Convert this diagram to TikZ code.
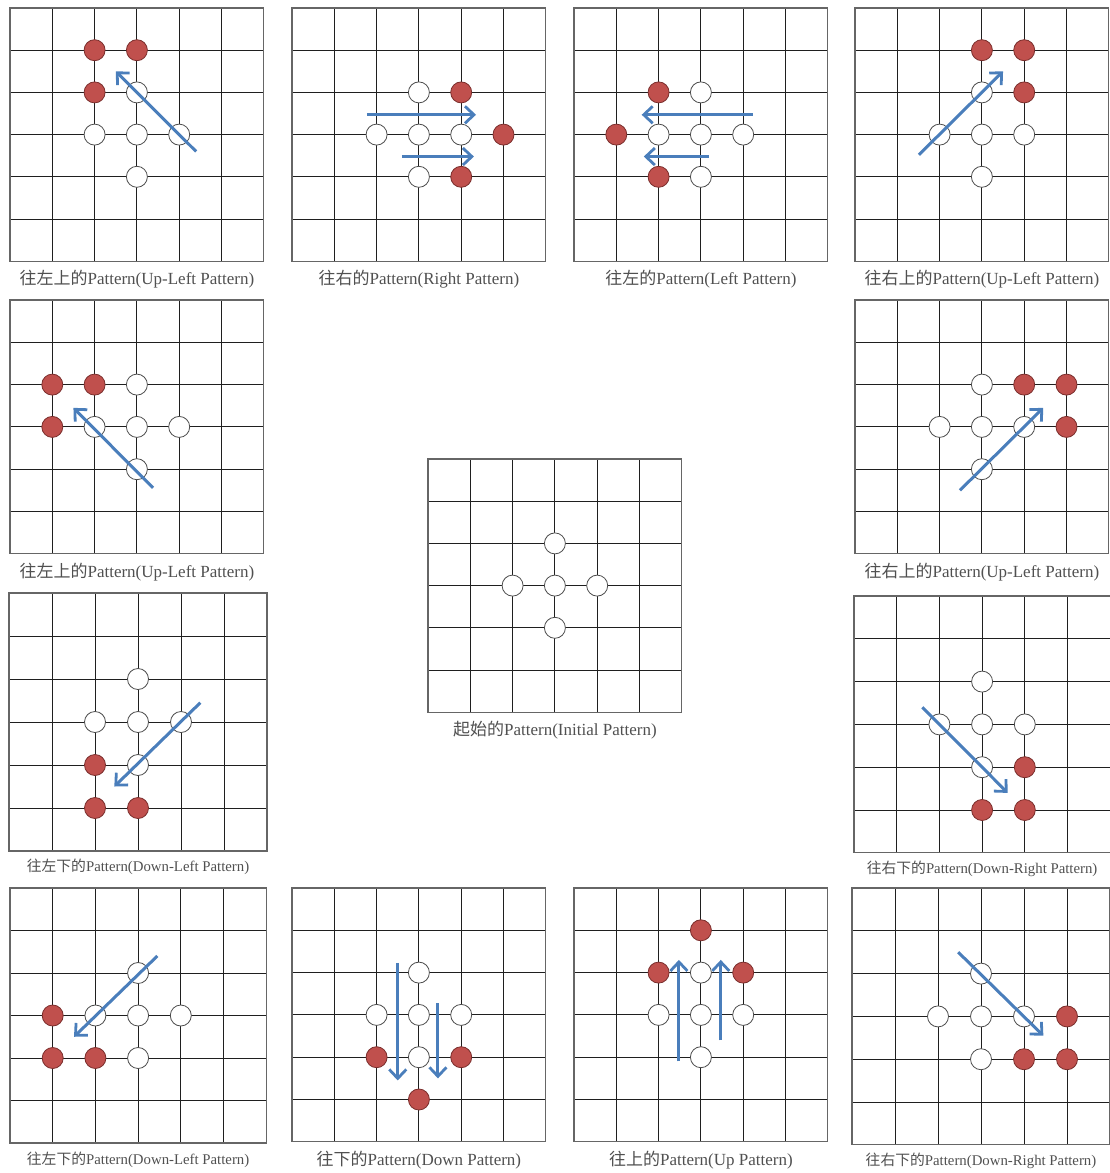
\documentclass[tikz,border=0pt]{standalone}
\usepackage{fontspec}
\setmainfont{Liberation Serif}
\newfontfamily\cjk{Noto Sans CJK TC}
\usetikzlibrary{arrows.meta}
\definecolor{stonered}{HTML}{C0504D}
\definecolor{stoneedge}{HTML}{7A2E2C}
\definecolor{arrblue}{HTML}{4A7EBB}
\definecolor{lblgray}{HTML}{505050}
\tikzset{
  gridline/.style={line width=0.9pt, black!88},
  gridframe/.style={line width=1.3pt, black!60},
  wc/.style={circle, draw=black!70, line width=0.8pt, fill=white, minimum size=21pt, inner sep=0pt},
  rc/.style={circle, draw=stoneedge, line width=0.8pt, fill=stonered, minimum size=21pt, inner sep=0pt},
  arr/.style={draw=arrblue, line width=3pt, -{Straight Barb[length=9pt,width=17pt,line width=2.8pt]}},
  lbl/.style={text=lblgray, inner sep=0pt, font=\fontsize{17}{20}\selectfont},
  slbl/.style={text=lblgray, inner sep=0pt, font=\fontsize{14.8}{17}\selectfont},
}
\newcommand\boardlines{%
  \foreach \i in {1,...,5}{\draw[gridline] (\i,0)--(\i,6); \draw[gridline] (0,\i)--(6,\i);}
  \draw[gridframe] (0,0) rectangle (6,6);}
\newcommand\initstones[1]{%
  \foreach \c/\r in {3/2,2/3,3/3,4/3,3/4} \node[wc] (#1-\c-\r) at (\c,\r) {};}
\newcommand\redstones[2]{%
  \foreach \c/\r in {#2} \node[rc] (#1-\c-\r) at (\c,\r) {};}
\begin{document}
\begin{tikzpicture}[x=1pt,y=-1pt]
\useasboundingbox (0,0) rectangle (1110,1173);
% 1 up-left
\begin{scope}[shift={(10,8)},x=42.3pt,y=-42.2pt]
  \boardlines \initstones{b1} \redstones{b1}{2/1,3/1,2/2}
  \coordinate (b1s) at (4.4,3.4); \coordinate (b1e) at (2.5,1.5);
  \draw[arr] (b1s) -- (b1e);
  \node[lbl,yshift=-18pt] (l1) at (3,6) {{\cjk 往左上的}Pattern(Up-Left Pattern)};
\end{scope}
% 2 right
\begin{scope}[shift={(292,8)},x=42.3pt,y=-42.2pt]
  \boardlines \initstones{b2} \redstones{b2}{4/2,5/3,4/4}
  \coordinate (b2s) at (1.77,2.53); \coordinate (b2e) at (4.35,2.53);
  \coordinate (b2t) at (2.6,3.52); \coordinate (b2u) at (4.3,3.52);
  \draw[arr] (b2s) -- (b2e); \draw[arr] (b2t) -- (b2u);
  \node[lbl,yshift=-18pt] (l2) at (3,6) {{\cjk 往右的}Pattern(Right Pattern)};
\end{scope}
% 3 left
\begin{scope}[shift={(574,8)},x=42.3pt,y=-42.2pt]
  \boardlines \initstones{b3} \redstones{b3}{2/2,1/3,2/4}
  \coordinate (b3s) at (4.23,2.53); \coordinate (b3e) at (1.6,2.53);
  \coordinate (b3t) at (3.19,3.52); \coordinate (b3u) at (1.65,3.52);
  \draw[arr] (b3s) -- (b3e); \draw[arr] (b3t) -- (b3u);
  \node[lbl,yshift=-18pt] (l3) at (3,6) {{\cjk 往左的}Pattern(Left Pattern)};
\end{scope}
% 4 up-right
\begin{scope}[shift={(855,8)},x=42.3pt,y=-42.2pt]
  \boardlines \initstones{b4} \redstones{b4}{3/1,4/1,4/2}
  \coordinate (b4s) at (1.51,3.48); \coordinate (b4e) at (3.5,1.5);
  \draw[arr] (b4s) -- (b4e);
  \node[lbl,yshift=-18pt] (l4) at (3,6) {{\cjk 往右上的}Pattern(Up-Left Pattern)};
\end{scope}
% 5 up-left
\begin{scope}[shift={(10,300)},x=42.3pt,y=-42.3pt]
  \boardlines \initstones{b5} \redstones{b5}{1/2,2/2,1/3}
  \coordinate (b5s) at (3.38,4.44); \coordinate (b5e) at (1.5,2.55);
  \draw[arr] (b5s) -- (b5e);
  \node[lbl,yshift=-18pt] (l5) at (3,6) {{\cjk 往左上的}Pattern(Up-Left Pattern)};
\end{scope}
% 6 up-right
\begin{scope}[shift={(855,300)},x=42.3pt,y=-42.3pt]
  \boardlines \initstones{b6} \redstones{b6}{4/2,5/2,5/3}
  \coordinate (b6s) at (2.48,4.5); \coordinate (b6e) at (4.45,2.55);
  \draw[arr] (b6s) -- (b6e);
  \node[lbl,yshift=-18pt] (l6) at (3,6) {{\cjk 往右上的}Pattern(Up-Left Pattern)};
\end{scope}
% centre initial
\begin{scope}[shift={(428,459)},x=42.3pt,y=-42.2pt]
  \boardlines \initstones{bc}
  \node[lbl,yshift=-18pt] (lc) at (3,6) {{\cjk 起始的}Pattern(Initial Pattern)};
\end{scope}
% 7 down-left
\begin{scope}[shift={(9,593)},x=43pt,y=-43pt]
  \boardlines \initstones{b7} \redstones{b7}{2/4,2/5,3/5}
  \coordinate (b7s) at (4.45,2.55); \coordinate (b7e) at (2.45,4.5);
  \draw[arr] (b7s) -- (b7e);
  \node[slbl,yshift=-16pt] (l7) at (3,6) {{\cjk 往左下的}Pattern(Down-Left Pattern)};
\end{scope}
% 8 down-right
\begin{scope}[shift={(854,596)},x=42.7pt,y=-42.8pt]
  \boardlines \initstones{b8} \redstones{b8}{4/4,3/5,4/5}
  \coordinate (b8s) at (1.6,2.6); \coordinate (b8e) at (3.6,4.6);
  \draw[arr] (b8s) -- (b8e);
  \node[slbl,yshift=-16pt] (l8) at (3,6) {{\cjk 往右下的}Pattern(Down-Right Pattern)};
\end{scope}
% 9 down-left
\begin{scope}[shift={(10,888)},x=42.7pt,y=-42.5pt]
  \boardlines \initstones{b9} \redstones{b9}{1/3,1/4,2/4}
  \coordinate (b9s) at (3.45,1.6); \coordinate (b9e) at (1.5,3.5);
  \draw[arr] (b9s) -- (b9e);
  \node[slbl,yshift=-17pt] (l9) at (3,6) {{\cjk 往左下的}Pattern(Down-Left Pattern)};
\end{scope}
% 10 down
\begin{scope}[shift={(292,888)},x=42.3pt,y=-42.3pt]
  \boardlines \initstones{b10} \redstones{b10}{2/4,4/4,3/5}
  \coordinate (b10s) at (2.5,1.77); \coordinate (b10e) at (2.5,4.55);
  \coordinate (b10t) at (3.45,2.73); \coordinate (b10u) at (3.45,4.5);
  \draw[arr] (b10s) -- (b10e); \draw[arr] (b10t) -- (b10u);
  \node[lbl,yshift=-18pt] (l10) at (3,6) {{\cjk 往下的}Pattern(Down Pattern)};
\end{scope}
% 11 up
\begin{scope}[shift={(574,888)},x=42.3pt,y=-42.3pt]
  \boardlines \initstones{b11} \redstones{b11}{3/1,2/2,4/2}
  \coordinate (b11s) at (2.48,4.1); \coordinate (b11e) at (2.48,1.7);
  \coordinate (b11t) at (3.47,3.6); \coordinate (b11u) at (3.47,1.7);
  \draw[arr] (b11s) -- (b11e); \draw[arr] (b11t) -- (b11u);
  \node[lbl,yshift=-18pt] (l11) at (3,6) {{\cjk 往上的}Pattern(Up Pattern)};
\end{scope}
% 12 down-right
\begin{scope}[shift={(852,888)},x=43pt,y=-42.8pt]
  \boardlines \initstones{b12} \redstones{b12}{5/3,4/4,5/4}
  \coordinate (b12s) at (2.47,1.5); \coordinate (b12e) at (4.45,3.45);
  \draw[arr] (b12s) -- (b12e);
  \node[slbl,yshift=-16pt] (l12) at (3,6) {{\cjk 往右下的}Pattern(Down-Right Pattern)};
\end{scope}
\end{tikzpicture}
\end{document}
